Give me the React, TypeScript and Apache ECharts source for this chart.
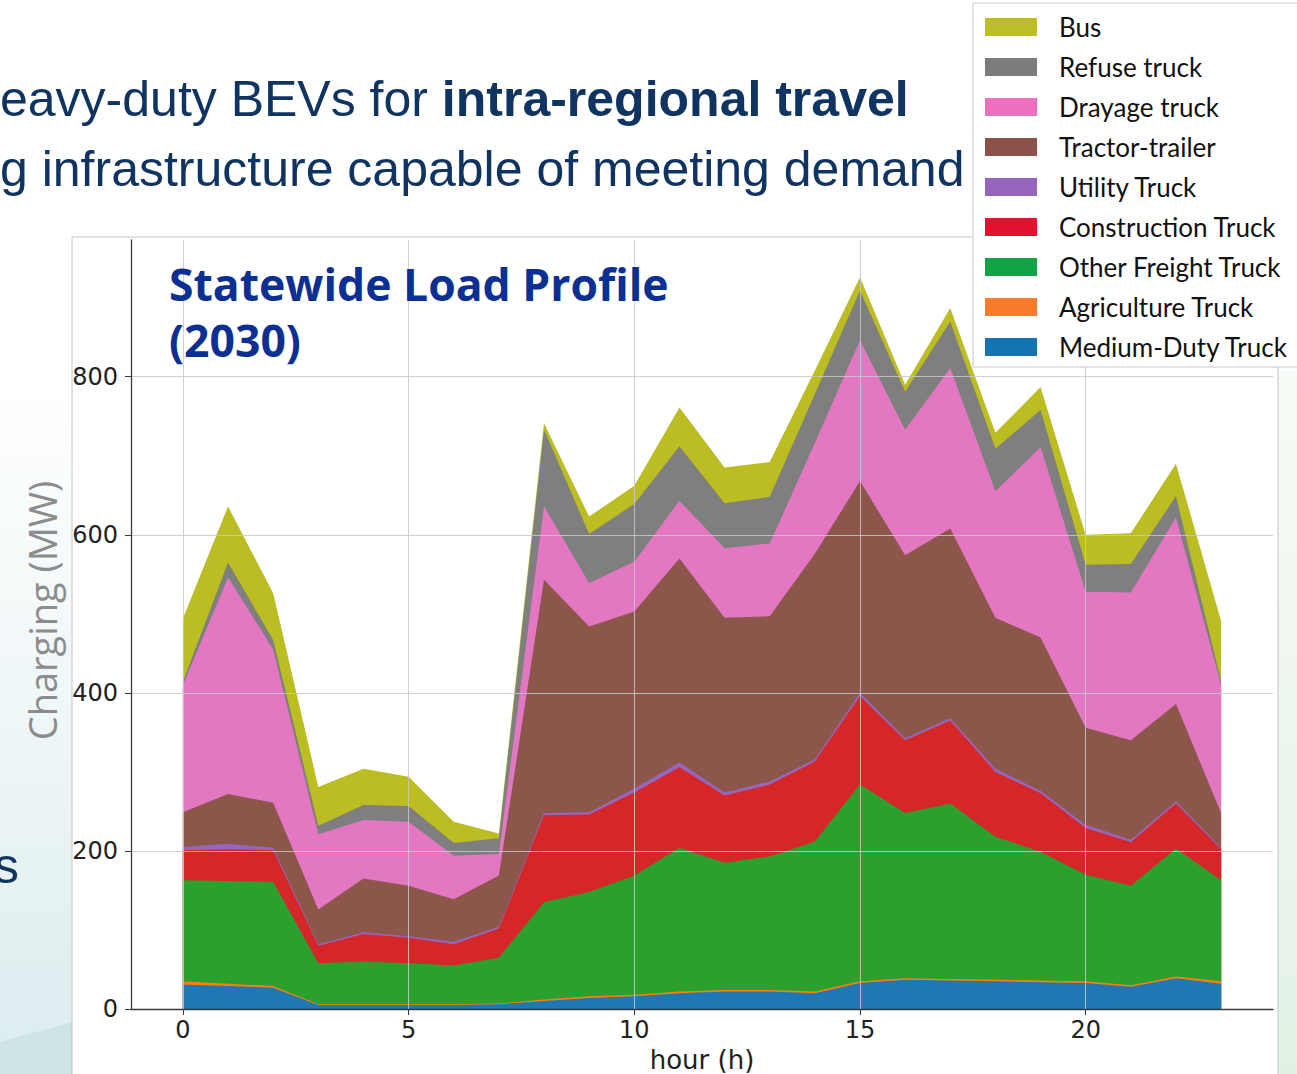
import React, { useEffect, useRef } from "react";
import * as echarts from "echarts";

const hours = [0, 1, 2, 3, 4, 5, 6, 7, 8, 9, 10, 11, 12, 13, 14, 15, 16, 17, 18, 19, 20, 21, 22, 23];
const mediumDuty = [31, 29, 27, 5, 5, 5, 5, 6, 10, 14, 16, 20, 22, 22, 20, 33, 37, 36, 35, 34, 33, 28, 39, 32];
const agriculture = [4, 3, 2, 1, 1, 1, 1, 1, 2, 2, 2, 2, 2, 2, 2, 2, 2, 2, 2, 2, 2, 2, 2, 3];
const otherFreight = [128, 130, 132, 52, 54, 52, 49, 58, 123, 132, 151, 182, 161, 169, 190, 249, 209, 222, 181, 163, 135, 126, 162, 128];
const construction = [38, 40, 40, 22, 35, 32, 27, 37, 110, 98, 105, 102, 85, 91, 101, 112, 92, 105, 82, 74, 59, 55, 57, 39];
const utility = [4, 7, 3, 2, 2, 2, 3, 2, 3, 3, 5, 6, 4, 4, 3, 4, 3, 3, 4, 3, 4, 3, 3, 2];
const tractorTrailer = [44, 63, 57, 44, 68, 64, 54, 65, 295, 235, 224, 258, 221, 209, 260, 268, 231, 240, 191, 194, 123, 126, 123, 44];
const drayage = [161, 274, 194, 95, 74, 81, 55, 27, 93, 55, 63, 73, 88, 92, 140, 178, 159, 203, 160, 241, 172, 187, 236, 162];
const refuse = [4, 19, 12, 11, 19, 20, 16, 20, 97, 62, 73, 69, 57, 59, 62, 63, 48, 59, 54, 47, 34, 36, 27, 5];
const bus = [80, 71, 59, 49, 46, 37, 27, 6, 8, 22, 23, 49, 45, 44, 30, 17, 9, 17, 20, 29, 38, 39, 41, 76];

const xTicks = [0, 5, 10, 15, 20];
const yTicks = [0, 200, 400, 600, 800];

const seriesNames = [
  "Medium-Duty Truck",
  "Agriculture Truck",
  "Other Freight Truck",
  "Construction Truck",
  "Utility Truck",
  "Tractor-trailer",
  "Drayage truck",
  "Refuse truck",
  "Bus",
];
const seriesValues = [mediumDuty, agriculture, otherFreight, construction, utility, tractorTrailer, drayage, refuse, bus];
const areaColors = ["#1f77b4", "#ff7f0e", "#2ca02c", "#d62728", "#9467bd", "#8c564b", "#e377c2", "#7f7f7f", "#bcbd22"];
const legendColors = ["#1474b4", "#f97b2c", "#13a245", "#e3132f", "#9564bf", "#8c5249", "#ec6fc0", "#7c7c7c", "#bdbd28"];

const NAVY = "#0f3461";

export default function App() {
  const ref = useRef<HTMLDivElement>(null);

  useEffect(() => {
    if (!ref.current) return;
    const chart = echarts.init(ref.current, undefined, { renderer: "svg" });

    // stacked tops (cumulative sums, bottom layer first)
    const stackedTops = seriesValues.map((_, k) =>
      hours.map((_, i) => {
        let s = 0;
        for (let j = 0; j <= k; j++) s += seriesValues[j][i];
        return s;
      })
    );

    // draw the tallest (top) layer first so lower layers paint over it
    const order = seriesNames.map((_, k) => k).reverse();
    const series = order.map((k) => ({
      name: seriesNames[k],
      type: "line",
      data: hours.map((h, i) => [h, stackedTops[k][i]]),
      symbol: "none",
      showSymbol: false,
      lineStyle: { width: 0, color: areaColors[k] },
      itemStyle: { color: areaColors[k] },
      areaStyle: { color: areaColors[k], opacity: 1, origin: "start" },
      emphasis: { disabled: true },
      z: 2,
    }));

    const legendData = seriesNames
      .map((name, k) => ({ name, itemStyle: { color: legendColors[k] } }))
      .reverse();

    const option: any = {
      animation: false,
      backgroundColor: "#ffffff",
      grid: {
        left: 131,
        top: 240,
        width: 1142,
        height: 769,
        show: true,
        borderColor: "#3a3a3a",
        borderWidth: 1.3,
        backgroundColor: "transparent",
        outerBoundsMode: "none",
        containLabel: false,
      },
      xAxis: {
        type: "value",
        min: -1.15,
        max: 24.15,
        z: 5,
        axisLine: { show: true, onZero: false, lineStyle: { color: "#3a3a3a", width: 1.3 } },
        axisTick: { show: true, customValues: xTicks, length: 6, lineStyle: { color: "#3a3a3a" } },
        axisLabel: { customValues: xTicks, fontSize: 24, color: "#222", fontFamily: "DejaVu Sans", margin: 9 },
        splitLine: { show: true, lineStyle: { color: "rgba(200,200,200,0.85)", width: 1 } },
        name: "hour (h)",
        nameLocation: "middle",
        nameGap: 38,
        nameTextStyle: { fontSize: 26, color: "#222", fontFamily: "DejaVu Sans" },
      },
      yAxis: {
        type: "value",
        min: 0,
        max: 973,
        z: 5,
        axisLine: { show: true, onZero: false, lineStyle: { color: "#3a3a3a", width: 1.3 } },
        axisTick: { show: true, customValues: yTicks, length: 6, lineStyle: { color: "#3a3a3a" } },
        axisLabel: { customValues: yTicks, fontSize: 24, color: "#222", fontFamily: "DejaVu Sans", margin: 13 },
        splitLine: { show: true, lineStyle: { color: "rgba(200,200,200,0.85)", width: 1 } },
        name: "Charging (MW)",
        nameLocation: "middle",
        nameGap: 70,
        nameTextStyle: { fontSize: 38, color: "#8c8c8c", fontFamily: "Open Sans", padding: [0, 0, 0, 28] },
      },
      legend: {
        orient: "vertical",
        left: 973,
        top: 3,
        data: legendData,
        icon: "rect",
        itemWidth: 52,
        itemHeight: 18,
        itemGap: 10,
        selectedMode: false,
        backgroundColor: "#ffffff",
        borderColor: "#c8c8c8",
        borderWidth: 1,
        padding: [9, 40, 5, 12],
        textStyle: { fontSize: 26, fontFamily: "Lato", color: "#111", padding: [0, 0, 0, 17], lineHeight: 30 },
        z: 20,
      },
      graphic: [
        {
          type: "rect",
          z: 0,
          shape: { x: 0, y: 380, width: 72, height: 694 },
          style: {
            fill: new echarts.graphic.LinearGradient(0, 0, 0, 1, [
              { offset: 0, color: "#ffffff" },
              { offset: 0.5, color: "#eef6f7" },
              { offset: 1, color: "#dcecef" },
            ]),
          },
        },
        {
          type: "polygon",
          z: 0,
          shape: { points: [[0, 1042], [72, 1022], [72, 1074], [0, 1074]] },
          style: { fill: "#cfe4e7" },
        },
        {
          type: "rect",
          z: 0,
          shape: { x: 1278, y: 370, width: 19, height: 704 },
          style: {
            fill: new echarts.graphic.LinearGradient(0, 0, 0, 1, [
              { offset: 0, color: "#f7fbf7" },
              { offset: 1, color: "#e3f1e5" },
            ]),
          },
        },
        {
          type: "rect",
          z: 0,
          shape: { x: 72, y: 237, width: 1206, height: 860 },
          style: { fill: "#ffffff", stroke: "#c4c4c4", lineWidth: 1 },
        },
        {
          type: "text",
          z: 10,
          x: 0,
          y: 99,
          style: {
            text: "{r|eavy-duty BEVs for }{b|intra-regional travel}",
            verticalAlign: "middle",
            rich: {
              r: { fontSize: 50, fontFamily: "Liberation Sans", fill: NAVY, fontWeight: "normal" },
              b: { fontSize: 50, fontFamily: "Liberation Sans", fill: NAVY, fontWeight: "bold" },
            },
          },
        },
        {
          type: "text",
          z: 10,
          x: 0,
          y: 169,
          style: {
            text: "g infrastructure capable of meeting demand",
            verticalAlign: "middle",
            fontSize: 50,
            fontFamily: "Liberation Sans",
            fill: NAVY,
          },
        },
        {
          type: "text",
          z: 10,
          x: -6,
          y: 866,
          style: {
            text: "s",
            verticalAlign: "middle",
            fontSize: 50,
            fontFamily: "Liberation Sans",
            fill: NAVY,
          },
        },
        {
          type: "text",
          z: 10,
          x: 169,
          y: 255,
          style: {
            text: "Statewide Load Profile\n(2030)",
            fontSize: 44.5,
            fontWeight: "bold",
            fontFamily: "Open Sans",
            fill: "#0b2f93",
            lineHeight: 56,
            verticalAlign: "top",
          },
        },
      ],
      series,
    };

    chart.setOption(option);
    return () => chart.dispose();
  }, []);

  return (
    <div
      ref={ref}
      style={{ position: "absolute", left: 0, top: 0, width: 1297, height: 1074, background: "#fff" }}
    />
  );
}
